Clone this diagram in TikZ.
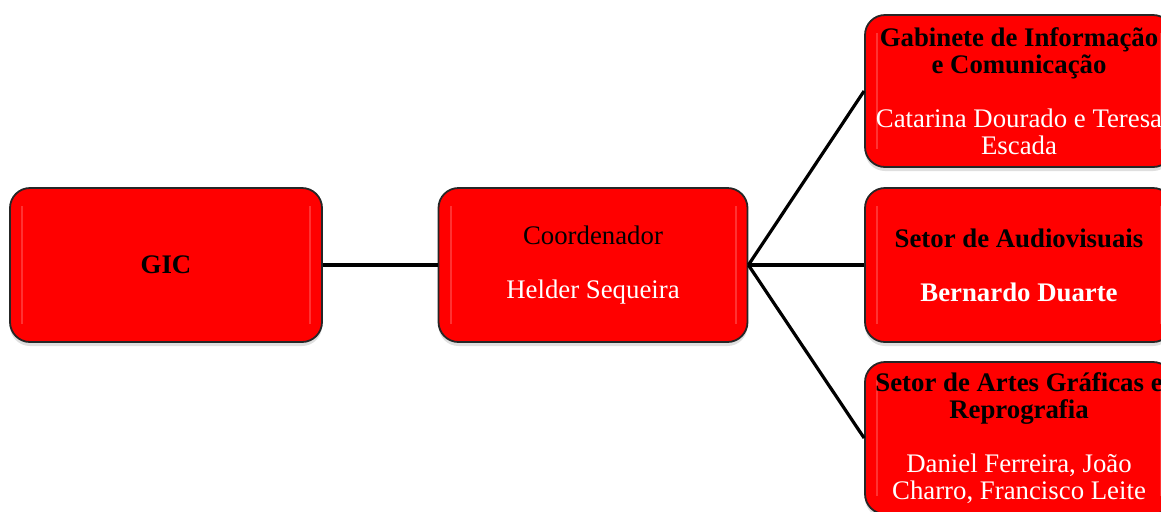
\documentclass[tikz,border=0pt]{standalone}
\usepackage{fontspec}
\setmainfont{Liberation Serif}
\usetikzlibrary{shadows}

\definecolor{boxred}{HTML}{FF0000}
\definecolor{glossred}{HTML}{FF4848}

\tikzset{
 box/.style={draw=black!85, line width=0.9pt, fill=boxred,
   rounded corners=10pt, minimum width=155pt, minimum height=77pt,
   inner sep=0pt, align=center, font=\fontsize{13.4}{13.5}\selectfont,
   drop shadow={shadow xshift=0pt, shadow yshift=-2pt, opacity=0.25},
   path picture={
    \draw[glossred, line width=1pt, opacity=0.7]
      ([xshift=6pt,yshift=-9pt]path picture bounding box.north west)
      -- ([xshift=6pt,yshift=9pt]path picture bounding box.south west);
    \draw[glossred, line width=1pt, opacity=0.7]
      ([xshift=-6pt,yshift=-9pt]path picture bounding box.north east)
      -- ([xshift=-6pt,yshift=9pt]path picture bounding box.south east);
   }},
 link/.style={line width=1.6pt, black}
}

\newcommand{\wt}[1]{\textcolor{white}{#1}}

\begin{document}
\begin{tikzpicture}[x=0.5pt,y=-0.5pt]
\useasboundingbox (0,0) rectangle (1161,511);

\node[box, minimum width=156pt] (gic) at (166,265) {\textbf{GIC}};
\node[box, minimum width=154.5pt] (coord) at (593,265)
  {Coordenador\\[13.5pt] \wt{Helder Sequeira}};

% setores
\node[box, minimum width=154pt, minimum height=76pt] (gab) at (1019,91)
  {\textbf{Gabinete de Informação}\\ \textbf{e Comunicação}\\[13.5pt]
   \wt{Catarina Dourado e Teresa}\\ \wt{Escada}};
\node[box, minimum width=154pt, minimum height=77pt] (audio) at (1019,265)
  {\textbf{Setor de Audiovisuais}\\[13.5pt] \wt{\textbf{Bernardo Duarte}}};
\node[box, minimum width=154pt, minimum height=76pt] (artes) at (1019,438)
  {\textbf{Setor de Artes Gráficas e}\\ \textbf{Reprografia}\\[13.5pt]
   \wt{Daniel Ferreira, João}\\ \wt{Charro, Francisco Leite}};

\draw[link] (gic.east) -- (coord.west);
\draw[link] (coord.east) -- (gab.west);
\draw[link] (coord.east) -- (audio.west);
\draw[link] (coord.east) -- (artes.west);
\end{tikzpicture}
\end{document}
